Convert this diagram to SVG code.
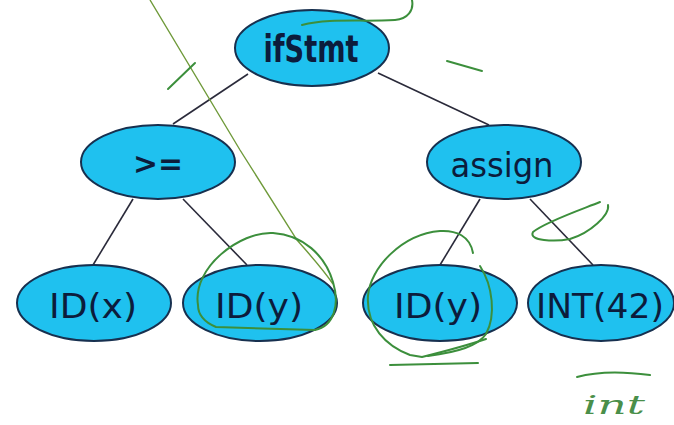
<svg xmlns="http://www.w3.org/2000/svg" width="674" height="425" viewBox="0 0 674 425">
<style>
.node ellipse{fill:#1fc1ef;stroke:#17304f;stroke-width:2}
.node text{font-family:"DejaVu Sans Condensed","DejaVu Sans",sans-serif;fill:#0c1c3c;text-anchor:middle}
.lbl{font-size:34px}
.edge{stroke:#2a2a3a;stroke-width:1.6;fill:none}
.ink{stroke:#3c8f3c;stroke-width:2;fill:none;stroke-linecap:round;stroke-linejoin:round}
.thin{stroke:#6f9a3a;stroke-width:1.4;fill:none}
</style>
<rect width="674" height="425" fill="#ffffff"/>
<g id="connectors">
<line class="edge" x1="248" y1="74" x2="173" y2="124"/>
<line class="edge" x1="378" y1="73" x2="489" y2="125"/>
<line class="edge" x1="133" y1="199" x2="93" y2="265"/>
<line class="edge" x1="183" y1="199" x2="247" y2="265"/>
<line class="edge" x1="480" y1="199" x2="440" y2="265"/>
<line class="edge" x1="530" y1="199" x2="593" y2="265"/>
</g>
<g id="n-ifStmt" class="node"><ellipse cx="312" cy="48" rx="77" ry="38"/><text x="311" y="62" font-size="37" textLength="95" lengthAdjust="spacingAndGlyphs" font-weight="bold">ifStmt</text></g>
<g id="n-ge" class="node"><ellipse cx="158" cy="162" rx="77" ry="37"/><text x="158" y="174" font-size="30" font-weight="bold" textLength="50" lengthAdjust="spacingAndGlyphs">&gt;=</text></g>
<g id="n-assign" class="node"><ellipse cx="504" cy="162" rx="77" ry="37"/><text x="502" y="177" class="lbl" textLength="103" lengthAdjust="spacingAndGlyphs">assign</text></g>
<g id="n-idx" class="node"><ellipse cx="94" cy="303" rx="77" ry="38"/><text x="93" y="318" class="lbl" textLength="88" lengthAdjust="spacingAndGlyphs">ID(x)</text></g>
<g id="n-idy1" class="node"><ellipse cx="260" cy="303" rx="77" ry="38"/><text x="259" y="318" class="lbl" textLength="88" lengthAdjust="spacingAndGlyphs">ID(y)</text></g>
<g id="n-idy2" class="node"><ellipse cx="440" cy="303" rx="77" ry="38"/><text x="438" y="318" class="lbl" textLength="88" lengthAdjust="spacingAndGlyphs">ID(y)</text></g>
<g id="n-int42" class="node"><ellipse cx="601" cy="303" rx="73" ry="38"/><text x="600" y="318" class="lbl" textLength="128" lengthAdjust="spacingAndGlyphs">INT(42)</text></g>
<g id="annotations">
<path class="thin" d="M150,0 L240,150 L297,240 C310,255 322,268 333,284"/>
<path class="ink" d="M168,89 L195,63"/>
<path class="ink" d="M302,25 C330,18 360,22 395,20 C408,19 414,10 412,0"/>
<path class="ink" d="M447,61 L482,71"/>
<path class="ink" d="M198,305 C192,268 240,231 273,233 C303,235 325,255 333,282 C340,305 334,326 315,330 L216,327 C204,322 198,314 198,305"/>
<path class="ink" d="M473,253 C470,236 456,230 440,231 C402,234 370,268 368,296 C366,326 386,346 410,355 L422,357 C442,352 468,345 486,339"/>
<path class="ink" d="M480,266 C493,286 496,316 486,334 C478,346 458,352 428,356"/>
<path class="ink" d="M390,365 L478,363"/>
<path class="ink" stroke-width="1.6" d="M600,202 C580,210 545,222 533,232 C528,241 555,242 570,239 C590,233 610,215 608,205"/>
<path class="ink" stroke-width="1.6" d="M577,377 C595,372 620,371 650,375"/>
<text x="583" y="414" font-family="DejaVu Serif,serif" font-style="italic" font-size="26" fill="#4a8f4a" textLength="62" lengthAdjust="spacingAndGlyphs">int</text>
</g>
</svg>
